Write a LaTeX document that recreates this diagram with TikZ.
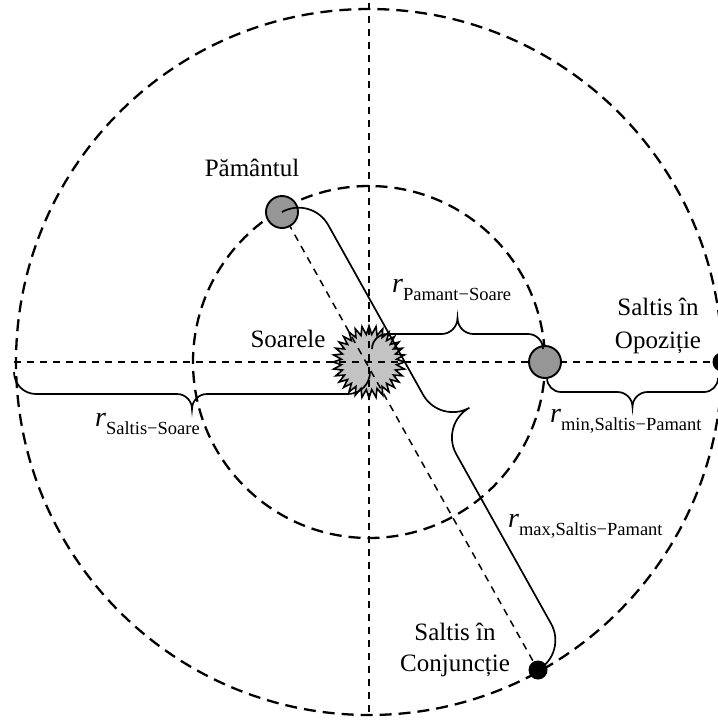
\documentclass[tikz,border=0pt]{standalone}
\usepackage{fontspec}
\setmainfont{Liberation Serif}
\usetikzlibrary{calc,decorations,shapes.geometric}

\makeatletter
\newdimen\cbre \newdimen\cbrt
\pgfkeys{/pgf/decoration/brace end/.code={\pgfmathsetlength\cbre{#1}},
         /pgf/decoration/brace tip/.code={\pgfmathsetlength\cbrt{#1}}}
\pgfdeclaredecoration{cbrace}{brace}{%
  \state{brace}[width=+\pgfdecoratedremainingdistance,next state=final]{%
    \pgfmathsetlengthmacro\bL{\pgfdecoratedremainingdistance}%
    \pgfmathsetlengthmacro\bh{0.5*\pgfdecoratedremainingdistance}%
    \pgfmathsetlengthmacro\ke{0.552*\cbre}%
    \pgfmathsetlengthmacro\kt{0.552*\cbrt}%
    \pgfpathmoveto{\pgfpointorigin}%
    \pgfpathcurveto{\pgfpoint{0pt}{\ke}}{\pgfpoint{\cbre-\ke}{\cbre}}{\pgfpoint{\cbre}{\cbre}}%
    \pgfpathlineto{\pgfpoint{\bh-\cbrt}{\cbre}}%
    \pgfpathcurveto{\pgfpoint{\bh-\cbrt+\kt}{\cbre}}{\pgfpoint{\bh}{\cbre+\cbrt-\kt}}{\pgfpoint{\bh}{\cbre+\cbrt}}%
    \pgfpathcurveto{\pgfpoint{\bh}{\cbre+\cbrt-\kt}}{\pgfpoint{\bh+\cbrt-\kt}{\cbre}}{\pgfpoint{\bh+\cbrt}{\cbre}}%
    \pgfpathlineto{\pgfpoint{\bL-\cbre}{\cbre}}%
    \pgfpathcurveto{\pgfpoint{\bL-\cbre+\ke}{\cbre}}{\pgfpoint{\bL}{\ke}}{\pgfpoint{\bL}{0pt}}%
  }%
  \state{final}{\pgfpathmoveto{\pgfpointdecoratedpathlast}}%
}
\makeatother

\definecolor{earthgray}{RGB}{150,150,150}
\definecolor{sungray}{RGB}{195,195,195}

\newcommand{\rlab}[1]{{\fontsize{28}{30}\selectfont\itshape r}\raisebox{-8pt}{\fontsize{18.5}{20}\selectfont #1}}

\tikzset{
  orbit/.style={line width=2.3pt, dash pattern=on 12pt off 7pt},
  axisline/.style={line width=1.5pt, dash pattern=on 7pt off 6pt},
  planet/.style={circle, draw, line width=1.9pt, fill=earthgray, minimum size=32pt, inner sep=0pt},
  saltis/.style={circle, fill=black, minimum size=19pt, inner sep=0pt},
  sunstyle/.style={star, star points=32, star point ratio=1.3, minimum size=72pt, inner sep=0pt, draw, line width=1.6pt, fill=sungray},
  lbl/.style={font=\fontsize{25}{30}\selectfont, inner sep=0pt, anchor=base},
  rlbl/.style={inner sep=0pt, anchor=base west},
  rbrace/.style 2 args={decorate, line width=1.7pt, decoration={cbrace, brace end=#1, brace tip=#2}}
}

\begin{document}
\begin{tikzpicture}[x=1pt,y=-1pt]
\useasboundingbox (0,0) rectangle (718,721);
\coordinate (O) at (369,362);
\node[sunstyle] (sun) at (O) {};
\draw[orbit] (O) circle[radius=353];
\draw[orbit] (O) circle[radius=176];

\coordinate (pA) at (282,212);
\coordinate (pB) at (545,362);
\coordinate (pOpp) at (722,362);
\coordinate (pConj) at (538,670);
\coordinate (hL) at (14,362);
\coordinate (hR) at (718,362);
\coordinate (vT) at (369,3);
\coordinate (vB) at (369,716);

\draw[axisline] (hL) -- (hR);
\draw[axisline] (vT) -- (vB);
\draw[axisline] (pA) -- (pConj);

\node[planet] (earthA) at (pA) {};
\node[planet] (earthB) at (pB) {};
\node[saltis] (opp) at (pOpp) {};
\node[saltis] (conj) at (pConj) {};

\draw[rbrace={15pt}{16pt}] ($(sun.center)+(3,-13)$) -- ($(earthB.center)+(-2,-13)$);
\draw[rbrace={22pt}{15pt}] ($(sun.center)+(1,10)$) -- ($(hL)+(0,10)$);
\draw[rbrace={14pt}{15pt}] ($(opp.center)+(-4,16)$) -- ($(earthB.center)+(2,16)$);
\draw[rbrace={34pt}{34pt}] (earthA.center) -- (conj.center);

\node[lbl] (tEarth) at (252,176) {Pământul};
\node[lbl] (tSun) at (288,347) {Soarele};
\node[lbl] (tOpp1) at (658,315) {Saltis în};
\node[lbl] (tOpp2) at (658,348) {Opoziție};
\node[lbl] (tConj1) at (455,640) {Saltis în};
\node[lbl] (tConj2) at (455,671) {Conjuncție};

\node[rlbl] (rPS) at (392,292) {\rlab{Pamant−Soare}};
\node[rlbl] (rMin) at (550,422) {\rlab{min,Saltis−Pamant}};
\node[rlbl] (rMax) at (508,527) {\rlab{max,Saltis−Pamant}};
\node[rlbl] (rSS) at (95,426) {\rlab{Saltis−Soare}};
\end{tikzpicture}
\end{document}
